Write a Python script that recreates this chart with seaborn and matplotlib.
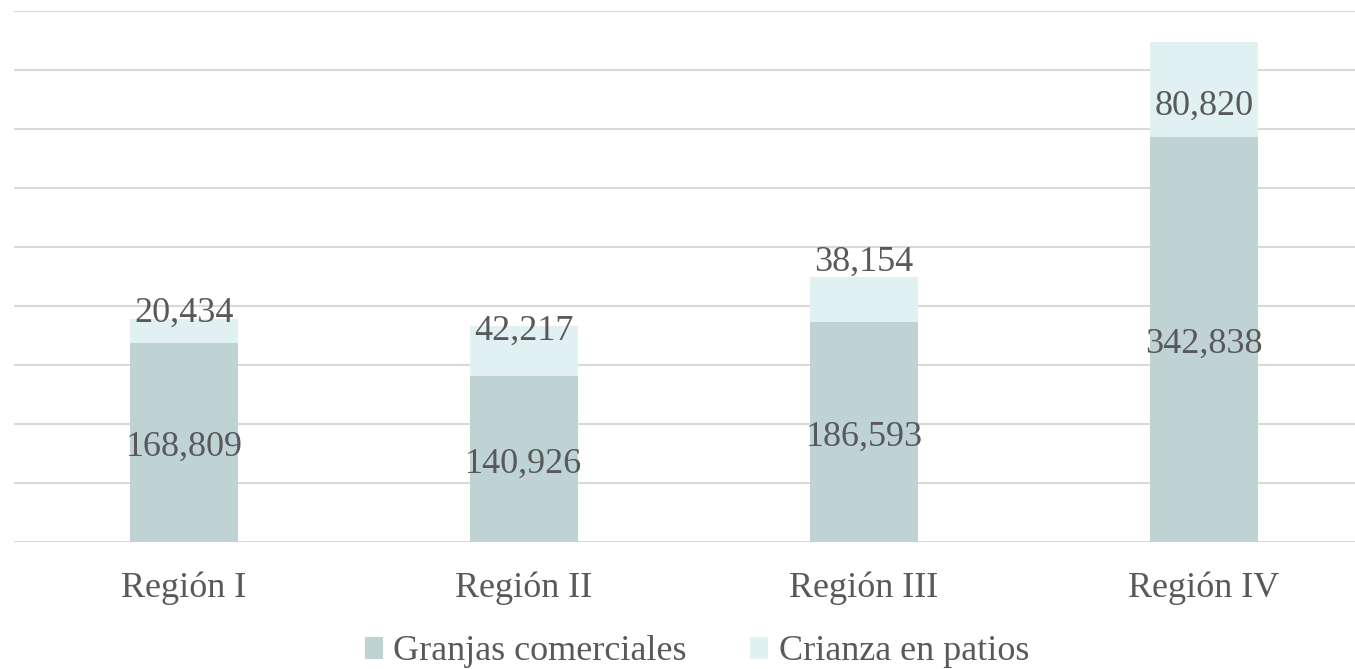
import matplotlib
matplotlib.use("Agg")
import matplotlib.pyplot as plt
import seaborn as sns
import pandas as pd
from matplotlib.patches import Patch

regions = ["Región I", "Región II", "Región III", "Región IV"]
granjas = [168809, 140926, 186593, 342838]
crianza = [20434, 42217, 38154, 80820]
series_names = ["Granjas comerciales", "Crianza en patios"]

# label offsets (in half-segment heights, relative to segment center) for top labels
top_label_shift = [1.85, 1.0, 1.86, -0.25]

dark = "#BFD3D5"
light = "#E1F0F1"
txt = "#595959"
fs = 26

sns.set_theme(style="white")
plt.rcParams["font.family"] = ["Liberation Serif", "DejaVu Serif"]

df = pd.DataFrame({"region": regions, "granjas": granjas, "crianza": crianza})
df["total"] = df["granjas"] + df["crianza"]

fig = plt.figure(figsize=(13.55, 6.69), dpi=100)
ax = fig.add_axes([14/1355, (669-542)/669, (1374-14)/1355, (542-11)/669])

sns.barplot(data=df, x="region", y="total", color=light, width=0.315,
            saturation=1, linewidth=0, ax=ax, zorder=2)
sns.barplot(data=df, x="region", y="granjas", color=dark, width=0.315,
            saturation=1, linewidth=0, ax=ax, zorder=3)

ax.set_ylim(0, 450000)
ax.set_xlim(-0.5, 3.5)
ax.set_yticks(range(0, 450001, 50000))
ax.yaxis.grid(True, color="#D9D9D9", linewidth=1.5, zorder=0)
ax.set_axisbelow(True)
for s in ax.spines.values():
    s.set_visible(False)
ax.tick_params(axis="y", left=False, labelleft=False)
ax.tick_params(axis="x", bottom=False, labelsize=fs, labelcolor=txt, pad=15)
ax.set_xlabel("")
ax.set_ylabel("")

for i, (g, c) in enumerate(zip(granjas, crianza)):
    ax.annotate(f"{g:,}", (i, g / 2), xytext=(0, -3.6), textcoords="offset points",
                ha="center", va="center", fontsize=fs, color=txt, zorder=5)
    ax.annotate(f"{c:,}", (i, g + c / 2 + top_label_shift[i] * c / 2), xytext=(0, -3.6),
                textcoords="offset points", ha="center", va="center", fontsize=fs,
                color=txt, zorder=5)

handles = [Patch(facecolor=dark, edgecolor="none"), Patch(facecolor=light, edgecolor="none")]
fig.legend(handles, series_names, loc="center", bbox_to_anchor=(697/1355, 17/669), ncol=2,
           frameon=False, fontsize=fs, labelcolor=txt, handlelength=0.5, handleheight=0.55,
           handletextpad=0.3, columnspacing=1.75)

fig.savefig("out.png", dpi=100)
